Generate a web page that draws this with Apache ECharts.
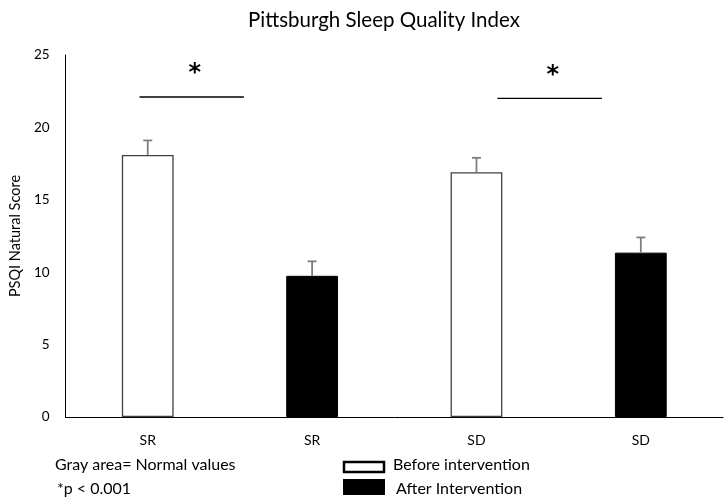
<!DOCTYPE html>
<html>
<head>
<meta charset="utf-8">
<script src="https://cdn.jsdelivr.net/npm/echarts@6/dist/echarts.min.js"></script>
<style>
  html, body { margin: 0; padding: 0; background: #fff; }
  #chart { width: 724px; height: 503px; }
</style>
</head>
<body>
<div id="chart"></div>
<script>
// Categories along the x axis (group of each bar)
const categories = ['SR', 'SR', 'SD', 'SD'];
// Mean PSQI score per bar and whether it is before (0) or after (1) the intervention
const meanScores = [18.1, 9.75, 16.9, 11.35];
const phase = [0, 1, 0, 1];
// Upper error (SE) for each bar
const errorUp = [1.0, 1.0, 1.0, 1.05];
// Significance brackets: [category index, height]
const sigBrackets = [[0, 22.1], [2, 22.0]];
const yTicks = [0, 5, 10, 15, 20, 25];

// Horizontal span of each bracket, as fractions of a category band from its centre
const bracketSpan = [[-0.05, 0.585], [0.127, 0.764]];

const FONT = 'Lato, "Open Sans", sans-serif';
const chart = echarts.init(document.getElementById('chart'));

const barData = meanScores.map((v, i) => ({
  value: v,
  itemStyle: phase[i] === 0
    ? { color: '#ffffff', borderColor: '#404040', borderWidth: 1.3 }
    : { color: '#000000', borderColor: '#000000', borderWidth: 1 }
}));

chart.setOption({
  animation: false,
  title: {
    text: 'Pittsburgh Sleep Quality Index',
    left: 243, top: 5,
    textStyle: { fontFamily: FONT, fontSize: 20.5, fontWeight: 'normal', color: '#000' }
  },
  grid: { left: 65, right: 1, top: 55, bottom: 86 },
  xAxis: {
    type: 'category',
    data: categories,
    axisLine: { lineStyle: { color: '#000', width: 1 } },
    axisTick: { show: false },
    axisLabel: { fontFamily: FONT, fontSize: 14, color: '#000', margin: 16 }
  },
  yAxis: {
    type: 'value', min: 0, max: 25, interval: 5,
    name: 'PSQI Natural Score', nameLocation: 'middle', nameGap: 41,
    nameTextStyle: { fontFamily: FONT, fontSize: 14.5, color: '#000' },
    axisLine: { show: true, lineStyle: { color: '#000', width: 1 } },
    axisTick: { show: false },
    splitLine: { show: false },
    axisLabel: {
      fontFamily: FONT, fontSize: 13.5, color: '#000', margin: 16,
      formatter: v => (yTicks.indexOf(v) >= 0 ? String(v) : '')
    }
  },
  series: [
    {
      type: 'bar', data: barData, barWidth: '31.5%',
      z: 2
    },
    {
      // Error bars: vertical whisker with a top cap
      type: 'custom', z: 3,
      data: meanScores.map((v, i) => [i, v, v + errorUp[i]]),
      renderItem: (params, api) => {
        const base = api.coord([api.value(0), api.value(1)]);
        const top = api.coord([api.value(0), api.value(2)]);
        const cap = 4.5;
        const style = { stroke: '#7f7f7f', lineWidth: 1.8 };
        return {
          type: 'group',
          children: [
            { type: 'line', shape: { x1: base[0], y1: base[1], x2: top[0], y2: top[1] }, style },
            { type: 'line', shape: { x1: top[0] - cap, y1: top[1], x2: top[0] + cap, y2: top[1] }, style }
          ]
        };
      }
    },
    {
      // Significance bracket line and asterisk
      type: 'custom', z: 3,
      data: sigBrackets,
      renderItem: (params, api) => {
        const c = api.coord([api.value(0), api.value(1)]);
        const band = api.size([1, 0])[0];
        const span = bracketSpan[params.dataIndex];
        const x1 = c[0] + span[0] * band;
        const x2 = c[0] + span[1] * band;
        return {
          type: 'group',
          children: [
            { type: 'line', shape: { x1, y1: c[1], x2, y2: c[1] }, style: { stroke: '#000', lineWidth: 1.3 } },
            { type: 'text', x: (x1 + x2) / 2 + 3, y: c[1] - 23,
              style: { text: '*', fontFamily: 'DejaVu Sans', fontWeight: 'bold', fontSize: 24, fill: '#000', align: 'center', verticalAlign: 'middle' } }
          ]
        };
      }
    }
  ],
  graphic: [
    { type: 'text', left: 55, top: 457, style: { text: 'Gray area= Normal values', fontFamily: FONT, fontSize: 16, fill: '#000' } },
    { type: 'text', left: 57, top: 481, style: { text: '*p < 0.001', fontFamily: FONT, fontSize: 16, fill: '#000' } },
    { type: 'rect', shape: { x: 344, y: 462, width: 40, height: 10 }, style: { fill: '#fff', stroke: '#000', lineWidth: 2.5 } },
    { type: 'rect', shape: { x: 343, y: 479, width: 42, height: 16 }, style: { fill: '#000' } },
    { type: 'text', left: 393, top: 457, style: { text: 'Before intervention', fontFamily: FONT, fontSize: 16, fill: '#000' } },
    { type: 'text', left: 396, top: 481, style: { text: 'After Intervention', fontFamily: FONT, fontSize: 16, fill: '#000' } }
  ]
});
</script>
</body>
</html>
